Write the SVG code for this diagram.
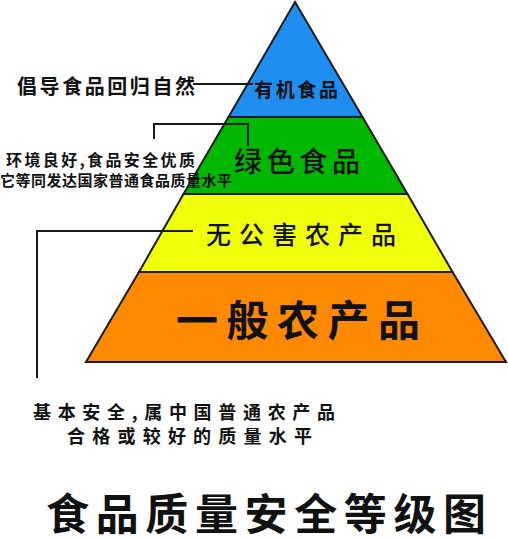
<svg xmlns="http://www.w3.org/2000/svg" width="508" height="538" viewBox="0 0 508 538">
<style>
.t{font-family:"Noto Sans CJK SC","Noto Sans",sans-serif;fill:#111;font-weight:bold}
.m{font-weight:500}
.band{stroke:#1a1a1a;stroke-width:2;stroke-linejoin:miter}
.c{fill:none;stroke:#1a1a1a;stroke-width:2}
</style>
<rect width="508" height="538" fill="#fff"/>
<g id="organic">
<polygon class="band" points="295,2 228.5,117 362.5,117" fill="#1e8ef0"/>
<text class="t" x="254" y="97" font-size="19" textLength="84" lengthAdjust="spacing">有机食品</text>
</g>
<g id="green">
<polygon class="band" points="228.5,117 362.5,117 407.5,194 183.5,194" fill="#00b800"/>
<text class="t m" x="234" y="172" font-size="28" textLength="126" lengthAdjust="spacing">绿色食品</text>
</g>
<g id="nonpolluted">
<polygon class="band" points="183.5,194 407.5,194 452.5,272 139,272" fill="#f0ff0a"/>
<text class="t m" x="206" y="244" font-size="25" textLength="190" lengthAdjust="spacing">无公害农产品</text>
</g>
<g id="general">
<polygon class="band" points="139,272 452.5,272 506,362 86,362" fill="#ff8a00"/>
<text class="t" x="176" y="336" font-size="42" textLength="244" lengthAdjust="spacing">一般农产品</text>
</g>
<g id="connectors">
<polyline class="c" points="193,84 253,84"/>
<polyline class="c" points="154,139 154,124 248,124 248,146"/>
<polyline class="c" points="193,231 37,231 37,378"/>
</g>
<g id="note-organic">
<text class="t" x="17" y="94" font-size="20" textLength="178" lengthAdjust="spacing">倡导食品回归自然</text>
</g>
<g id="note-green">
<text class="t" x="6" y="166" font-size="16" textLength="189" lengthAdjust="spacing">环境良好,食品安全优质</text>
<text class="t" x="0" y="186" font-size="15" textLength="232" lengthAdjust="spacing">它等同发达国家普通食品质量水平</text>
</g>
<g id="note-general">
<text class="t" x="33" y="419" font-size="18" textLength="302" lengthAdjust="spacing">基本安全,属中国普通农产品</text>
<text class="t" x="67" y="443" font-size="18" textLength="245" lengthAdjust="spacing">合格或较好的质量水平</text>
</g>
<g id="title">
<text class="t" x="46" y="530" font-size="43" textLength="440" lengthAdjust="spacing">食品质量安全等级图</text>
</g>
</svg>
